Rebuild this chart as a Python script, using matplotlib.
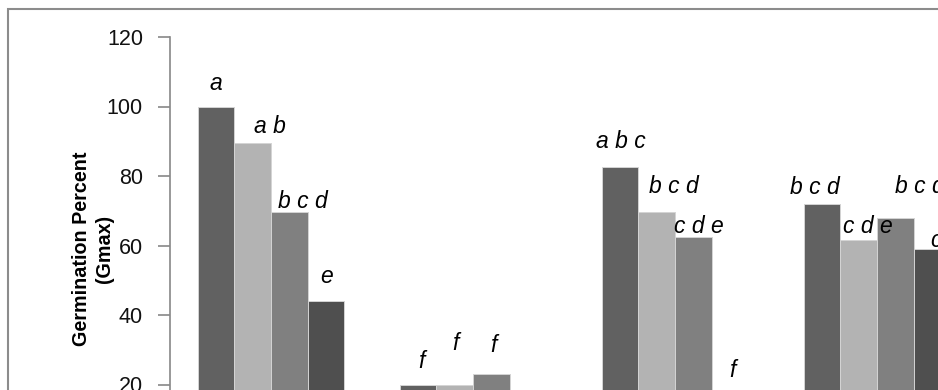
import matplotlib
matplotlib.use("Agg")
import matplotlib.pyplot as plt
from matplotlib.patches import Rectangle
import numpy as np

# ---- data ----
groups = ["G1", "G2", "G3", "G4"]
series1 = [100, 20, 82.5, 72]
series2 = [89.5, 20, 69.5, 61.5]
series3 = [69.5, 23, 62.5, 68]
series4 = [44, 0, 16, 59]
labels1 = ["a", "f", "a b c", "b c d"]
labels2 = ["a b", "f", "b c d", "c d e"]
labels3 = ["b c d", "f", "c d e", "b c d"]
labels4 = ["e", "", "f", "c d e"]
yticks = [20, 40, 60, 80, 100, 120]

# label offsets from bar top (pixels: dx, dy to baseline)
offs1 = [(0, 17), (3, 17), (1, 19), (-7, 10)]
offs2 = [(17, 10), (1, 35), (17, 19), (9, 7)]
offs3 = [(14, 4), (2, 22), (6, 4), (25, 25)]
offs4 = [(1, 18), (0, 0), (2, 21), (24, 2)]

colors = ["#616161", "#b3b3b3", "#808080", "#4f4f4f"]

W, H, DPI = 938, 390, 100
fig = plt.figure(figsize=(W / DPI, H / DPI), dpi=DPI, facecolor="white")

# axes geometry (pixels): y axis at x=170, y=120 at 37px, y=0 at 454px
left_px, top_px, zero_px, group_px = 170, 37, 454, 202
ngroups = len(groups)
ax = fig.add_axes([left_px / W, 1 - zero_px / H, ngroups * group_px / W,
                   (zero_px - top_px) / H])
ax.set_ylim(0, 120)
ax.set_xlim(-0.5, ngroups - 0.5)

x = np.arange(ngroups)
bw = 0.1817
all_series = [series1, series2, series3, series4]
all_labels = [labels1, labels2, labels3, labels4]
all_offs = [offs1, offs2, offs3, offs4]
for i, (vals, labs, offs, c) in enumerate(zip(all_series, all_labels, all_offs, colors)):
    xs = x + (i - 1.5) * bw
    ax.bar(xs, vals, width=bw, color=c, edgecolor="#d4d4d4", linewidth=0.7, zorder=2)
    for xi, v, lab, (dx, dy) in zip(xs, vals, labs, offs):
        if lab:
            ax.annotate(lab, (xi, v), xytext=(dx * 0.72, dy * 0.72),
                        textcoords="offset points", ha="center", va="baseline",
                        fontsize=16.5, fontstyle="italic",
                        family=["Liberation Sans", "DejaVu Sans"], color="black",
                        annotation_clip=False, zorder=3)

for s in ["top", "right", "bottom"]:
    ax.spines[s].set_visible(False)
ax.spines["left"].set_color("#888888")
ax.spines["left"].set_linewidth(1.2)
ax.set_xticks([])
ax.set_yticks(yticks)
ax.tick_params(axis="y", direction="out", length=8.5, width=1.2, color="#888888",
               pad=11, labelsize=15.5, labelcolor="#111111")
for t in ax.get_yticklabels():
    t.set_family(["Liberation Sans", "DejaVu Sans"])

ax.set_ylabel("Germination Percent\n(Gmax)", fontsize=14.2, fontweight="bold",
              family=["Liberation Sans", "DejaVu Sans"], linespacing=1.3,
              va="center", ha="center")
ax.yaxis.set_label_coords((93 - left_px) / (ngroups * group_px),
                          (zero_px - 249) / (zero_px - top_px))

# outer chart border
fig.add_artist(Rectangle((7.5 / W, -0.5), 2.0, 1.5 - 9 / H, transform=fig.transFigure,
                         fill=False, edgecolor="#8c8c8c", linewidth=1.5))

fig.savefig("out.png", dpi=DPI, facecolor="white")
